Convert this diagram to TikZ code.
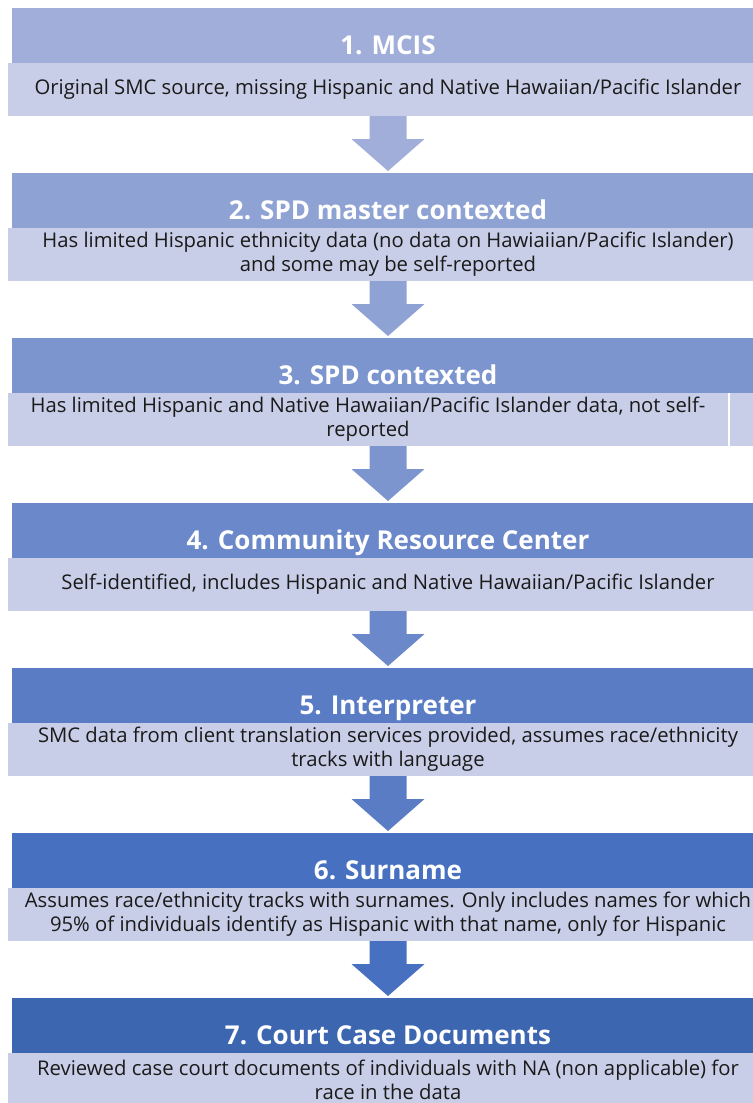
\documentclass[tikz,border=0pt]{standalone}
\usepackage{fontspec}
\setmainfont{Open Sans}
\usetikzlibrary{positioning,calc}

% header shades, light to dark
\definecolor{head1}{HTML}{A0AED9}
\definecolor{head2}{HTML}{8FA2D4}
\definecolor{head3}{HTML}{7C95CF}
\definecolor{head4}{HTML}{6B88CA}
\definecolor{head5}{HTML}{5A7CC5}
\definecolor{head6}{HTML}{4770C0}
\definecolor{head7}{HTML}{3D66B1}
\definecolor{bodyfill}{HTML}{C8CEE7}
\definecolor{bodytext}{HTML}{1A1A1A}

\tikzset{
	head/.style={fill=#1, minimum width=564pt, minimum height=41.25pt, inner sep=0pt, outer sep=0pt,
		text height=34.9pt, text depth=6.35pt, text=white, font=\bfseries\fontsize{19.5}{22}\selectfont},
	body/.style={fill=bodyfill, minimum width=570pt, minimum height=39.75pt, inner sep=0pt, outer sep=0pt,
		align=center, text=bodytext, font=\fontsize{15.2}{18}\selectfont},
}

% block arrow from one body down to the next header
\newcommand{\flowarrow}[3]{%
	\coordinate (s) at (#2.north |- #1.south);
	\fill[#3] ($(s)+(-18.5,0)$) -- ($(s)+(18.5,0)$) -- ($(s)+(18.5,23)$) -- ($(s)+(36.5,23)$)
		-- ($(#2.north)+(0,-2)$) -- ($(s)+(-36.5,23)$) -- ($(s)+(-18.5,23)$) -- cycle;
}

\begin{document}
\begin{tikzpicture}[x=0.75pt, y=-0.75pt]
	\useasboundingbox (0,0) rectangle (753,1103);

	\node[head=head1, anchor=north] (h1) at (388,8) {1. MCIS};
	\node[body, below=0pt of h1] (b1) {Original SMC source, missing Hispanic and Native Hawaiian/Pacific Islander};

	\node[head=head2, below=42.75pt of b1] (h2) {2. SPD master contexted};
	\node[body, below=0pt of h2] (b2) {Has limited Hispanic ethnicity data (no data on Hawiaiian/Pacific Islander)\\and some may be self-reported};

	\node[head=head3, below=42.75pt of b2] (h3) {3. SPD contexted};
	\node[body, minimum width=540pt, anchor=north west] (b3) at ($(h3.south west)+(-4,0)$) {Has limited Hispanic and Native Hawaiian/Pacific Islander data, not self-\\reported};
	\node[body, minimum width=28.5pt, right=1.5pt of b3] (b3x) {};

	\node[head=head4, below=42.75pt of b3.south -| h3.south, anchor=north] (h4) {4. Community Resource Center};
	\node[body, below=0pt of h4] (b4) {Self-identified, includes Hispanic and Native Hawaiian/Pacific Islander};

	\node[head=head5, below=42.75pt of b4] (h5) {5. Interpreter};
	\node[body, below=0pt of h5] (b5) {SMC data from client translation services provided, assumes race/ethnicity\\tracks with language};

	\node[head=head6, below=42.75pt of b5] (h6) {6. Surname};
	\node[body, below=0pt of h6] (b6) {Assumes race/ethnicity tracks with surnames. Only includes names for which\\95\% of individuals identify as Hispanic with that name, only for Hispanic};

	\node[head=head7, below=42.75pt of b6] (h7) {7. Court Case Documents};
	\node[body, below=0pt of h7] (b7) {Reviewed case court documents of individuals with NA (non applicable) for\\race in the data};

	\flowarrow{b1}{h2}{head1}
	\flowarrow{b2}{h3}{head2}
	\flowarrow{b3}{h4}{head3}
	\flowarrow{b4}{h5}{head4}
	\flowarrow{b5}{h6}{head5}
	\flowarrow{b6}{h7}{head6}
\end{tikzpicture}
\end{document}
